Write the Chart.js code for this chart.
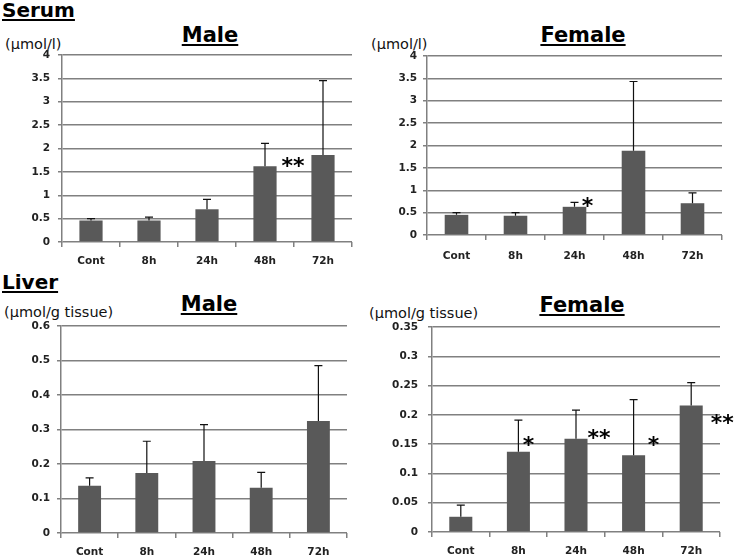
<!DOCTYPE html>
<html>
<head>
<meta charset="utf-8">
<script src="https://cdn.jsdelivr.net/npm/chart.js@4"></script>
<style>
  body { margin: 0; background: #fff; }
  #page { position: relative; width: 734px; height: 556px; font-family: "DejaVu Sans", sans-serif; color: #000; }
  .box { position: absolute; }
  .head { position: absolute; font-weight: bold; font-size: 20px; text-decoration: underline; text-underline-offset: 2px; }
  .title { position: absolute; font-weight: bold; font-size: 21px; text-decoration: underline; text-underline-offset: 2px; transform: translateX(-50%); white-space: nowrap; }
  .unit { position: absolute; font-size: 14.5px; color: #111; white-space: nowrap; }
</style>
</head>
<body>
<div id="page">
  <div class="head" style="left:2px; top:-2px;">Serum</div>
  <div class="head" style="left:2px; top:270px;">Liver</div>

  <div class="title" style="left:210px; top:23px;">Male</div>
  <div class="title" style="left:583px; top:23px;">Female</div>
  <div class="title" style="left:209px; top:292px;">Male</div>
  <div class="title" style="left:582px; top:293px;">Female</div>

  <div class="unit" style="left:5px; top:36px;">(μmol/l)</div>
  <div class="unit" style="left:371px; top:36px;">(μmol/l)</div>
  <div class="unit" style="left:4px; top:304px;">(μmol/g tissue)</div>
  <div class="unit" style="left:369px; top:305px;">(μmol/g tissue)</div>

  <div class="box" style="left:0; top:0; width:367px; height:278px;"><canvas id="serumMale"></canvas></div>
  <div class="box" style="left:367px; top:0; width:367px; height:278px;"><canvas id="serumFemale"></canvas></div>
  <div class="box" style="left:0; top:278px; width:367px; height:278px;"><canvas id="liverMale"></canvas></div>
  <div class="box" style="left:367px; top:278px; width:367px; height:278px;"><canvas id="liverFemale"></canvas></div>
</div>

<script>
// kategorie (čas po podání)
const categories = ['Cont', '8h', '24h', '48h', '72h'];

// sérum (μmol/l)
const serumMaleMean = [0.46, 0.46, 0.70, 1.62, 1.86];
const serumMaleErr = [0.04, 0.07, 0.21, 0.49, 1.59];
const serumMaleMarks = ['', '', '', '**', ''];
const serumMaleMarkLevel = [0, 0, 0, 1.69, 0];

const serumFemaleMean = [0.45, 0.43, 0.63, 1.88, 0.71];
const serumFemaleErr = [0.05, 0.07, 0.10, 1.55, 0.23];
const serumFemaleMarks = ['', '', '*', '', ''];
const serumFemaleMarkLevel = [0, 0, 0.71, 0, 0];

// játra (μmol/g tissue)
const liverMaleMean = [0.137, 0.174, 0.209, 0.131, 0.325];
const liverMaleErr = [0.023, 0.092, 0.105, 0.045, 0.160];

const liverFemaleMean = [0.026, 0.137, 0.159, 0.131, 0.216];
const liverFemaleErr = [0.020, 0.054, 0.049, 0.095, 0.039];
const liverFemaleMarks = ['', '*', '**', '*', '**'];
const liverFemaleMarkLevel = [0, 0.154, 0.165, 0.154, 0.19];

const serumTicks = [0, 0.5, 1, 1.5, 2, 2.5, 3, 3.5, 4];
const liverMaleTicks = [0, 0.1, 0.2, 0.3, 0.4, 0.5, 0.6];
const liverFemaleTicks = [0, 0.05, 0.1, 0.15, 0.2, 0.25, 0.3, 0.35];

// Plugin pro chybové úsečky a hvězdičky
const errorBarPlugin = {
    id: 'errorBars',
    afterDatasetsDraw(chart, args, opts) {
        const c = chart.ctx;
        const meta = chart.getDatasetMeta(0);
        const y = chart.scales.y;
        c.save();
        c.strokeStyle = '#111';
        c.lineWidth = 1.2;
        meta.data.forEach((bar, i) => {
            const top = y.getPixelForValue(opts.mean[i] + opts.err[i]);
            c.beginPath();
            c.moveTo(bar.x, bar.y);
            c.lineTo(bar.x, top);
            c.moveTo(bar.x - 4, top);
            c.lineTo(bar.x + 4, top);
            c.stroke();
        });
        if (opts.marks) {
            c.fillStyle = '#000';
            c.font = 'bold 22px "DejaVu Sans"';
            c.textAlign = 'center';
            c.textBaseline = 'middle';
            meta.data.forEach((bar, i) => {
                if (!opts.marks[i]) return;
                const py = y.getPixelForValue(opts.levels[i]);
                c.fillText(opts.marks[i], bar.x + opts.offsets[i], py + 4);
            });
        }
        c.restore();
    }
};

function makeChart(id, p) {
    const ctx = document.getElementById(id).getContext('2d');
    return new Chart(ctx, {
        type: 'bar',
        data: {
            labels: categories,
            datasets: [{
                data: p.mean,
                backgroundColor: '#595959',
                borderWidth: 0,
                barPercentage: 0.4,
                categoryPercentage: 1
            }]
        },
        plugins: [errorBarPlugin],
        options: {
            responsive: true,
            maintainAspectRatio: false,
            animation: false,
            layout: { padding: { left: 0, top: p.top, right: p.right, bottom: 0 } },
            plugins: {
                legend: { display: false },
                tooltip: { enabled: false },
                errorBars: { mean: p.mean, err: p.err, marks: p.marks, levels: p.levels, offsets: p.offsets }
            },
            scales: {
                x: {
                    grid: { display: true, drawOnChartArea: false, drawTicks: true, tickLength: 5, color: '#808080', lineWidth: 1.5 },
                    border: { display: false },
                    ticks: { color: '#222', font: { family: 'DejaVu Sans', size: 10.5, weight: 'bold' }, padding: p.xPad, maxRotation: 0 },
                    afterFit: s => { s.height = p.bottom; }
                },
                y: {
                    min: 0,
                    max: p.ticks[p.ticks.length - 1],
                    afterBuildTicks: s => { s.ticks = p.ticks.map(v => ({ value: v })); },
                    grid: { color: '#808080', lineWidth: 1.5, tickLength: 4 },
                    border: { color: '#808080', width: 1.5 },
                    ticks: { color: '#222', font: { family: 'DejaVu Sans', size: 10.5, weight: 'bold' }, padding: p.tickPad, callback: v => String(v) },
                    afterFit: s => { s.width = p.left; }
                }
            }
        }
    });
}

makeChart('serumMale', {
    mean: serumMaleMean, err: serumMaleErr, marks: serumMaleMarks, levels: serumMaleMarkLevel,
    offsets: [0, 0, 0, 28, 0], ticks: serumTicks,
    left: 62, top: 55, right: 15, bottom: 36, tickPad: 8, xPad: 8
});
makeChart('serumFemale', {
    mean: serumFemaleMean, err: serumFemaleErr, marks: serumFemaleMarks, levels: serumFemaleMarkLevel,
    offsets: [0, 0, 13, 0, 0], ticks: serumTicks,
    left: 60, top: 56, right: 12, bottom: 43, tickPad: 6, xPad: 10
});
makeChart('liverMale', {
    mean: liverMaleMean, err: liverMaleErr, marks: null, ticks: liverMaleTicks,
    left: 61, top: 48, right: 20, bottom: 23, tickPad: 7, xPad: 8
});
makeChart('liverFemale', {
    mean: liverFemaleMean, err: liverFemaleErr, marks: liverFemaleMarks, levels: liverFemaleMarkLevel,
    offsets: [0, 10, 23, 20, 31], ticks: liverFemaleTicks,
    left: 65, top: 49, right: 14, bottom: 24, tickPad: 10, xPad: 8
});
</script>
</body>
</html>
